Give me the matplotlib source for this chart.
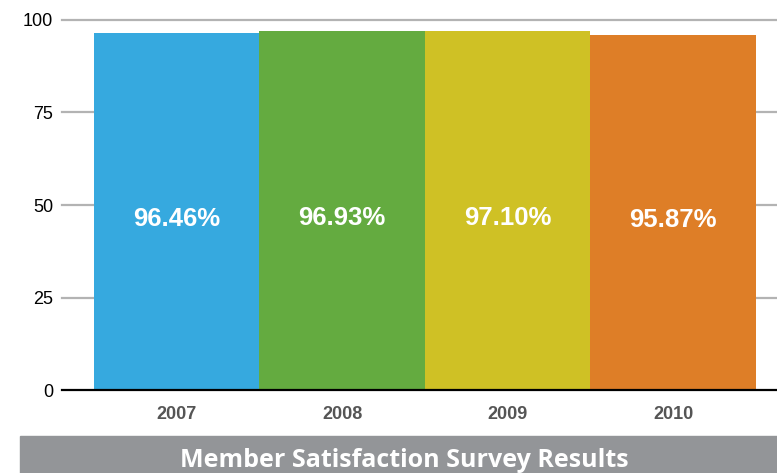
import matplotlib
matplotlib.use("Agg")
import matplotlib.pyplot as plt
from matplotlib.patches import Rectangle

years = ["2007", "2008", "2009", "2010"]
values = [96.46, 96.93, 97.10, 95.87]
labels = ["96.46%", "96.93%", "97.10%", "95.87%"]
colors = ["#36a9df", "#64ab40", "#cfc125", "#de7e27"]
yticks = [0, 25, 50, 75, 100]
title = "Member Satisfaction Survey Results"

W, H = 777, 473
fig = plt.figure(figsize=(W / 100, H / 100), dpi=100)
ax = fig.add_axes([62 / W, 1 - 390 / H, 1 - 62 / W, (390 - 20) / H])

x = list(range(len(years)))
ax.bar(x, values, width=1.0, color=colors, zorder=2)
for xi, v, lab in zip(x, values, labels):
    ax.text(xi, v * 0.48, lab, ha="center", va="center", color="white",
            fontsize=18.5, fontweight="bold", family="Liberation Sans", zorder=3)

ax.set_xlim(-0.693, 3.627)
ax.set_ylim(0, 100)
ax.set_yticks(yticks)
ax.set_yticklabels([str(t) for t in yticks], family="Liberation Sans", fontsize=13)
ax.set_xticks(x)
ax.set_xticklabels(years, family="Liberation Sans", fontsize=13,
                   fontweight="bold", color="#555555")
ax.tick_params(axis="y", length=0, pad=6.5)
ax.tick_params(axis="x", length=0, pad=11.5)
for t in yticks[1:]:
    ax.axhline(t, color="#b3b3b3", lw=1.6, zorder=1, clip_on=False)
ax.axhline(0, color="black", lw=1.6, zorder=4, clip_on=False)
for s in ax.spines.values():
    s.set_visible(False)

fig.patches.append(Rectangle((20 / W, 0), 1 - 20 / W, (473 - 436) / H,
                             transform=fig.transFigure, color="#939598", zorder=0))
fig.text(404 / W, 1 - 460 / H, title, ha="center", va="center", color="white",
         fontsize=18, fontweight="bold", family="Open Sans")

fig.savefig("out.png", dpi=100)
